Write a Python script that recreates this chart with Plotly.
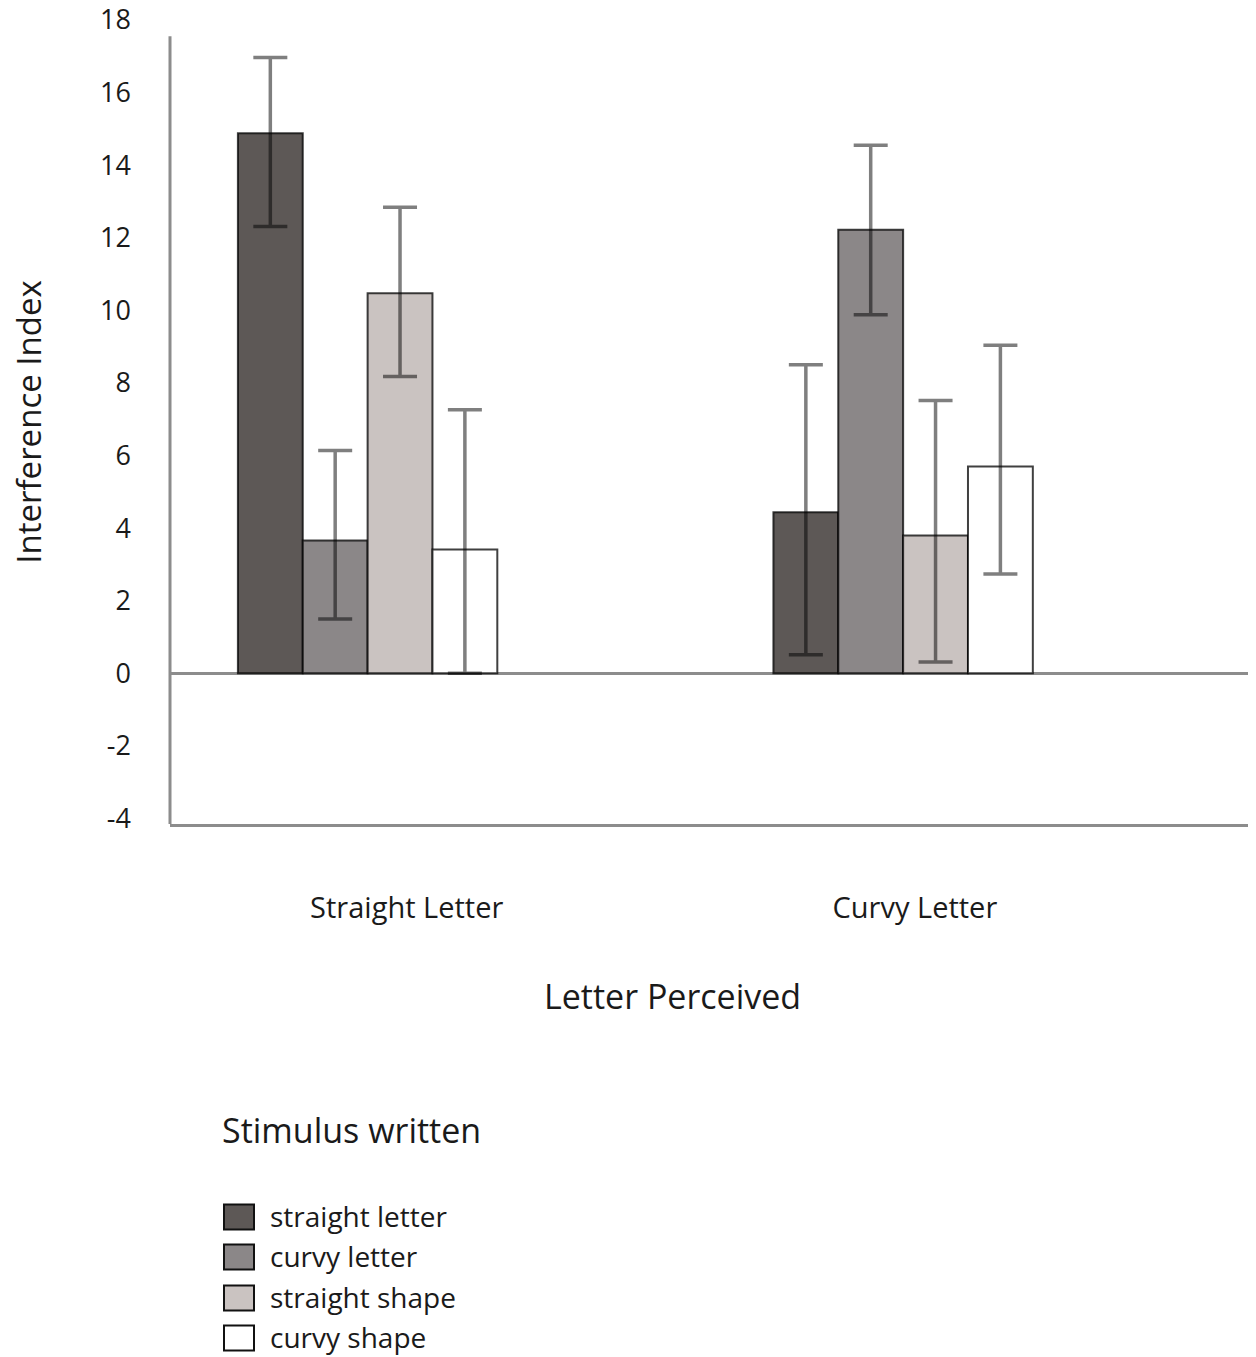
import plotly.graph_objects as go

# ---- data ----
groups = ["Straight Letter", "Curvy Letter"]
series_names = ["straight letter", "curvy letter", "straight shape", "curvy shape"]

straight_letter = [14.88, 4.44]
straight_letter_hi = [16.97, 8.50]
straight_letter_lo = [12.31, 0.51]

curvy_letter = [3.66, 12.22]
curvy_letter_hi = [6.14, 14.55]
curvy_letter_lo = [1.50, 9.88]

straight_shape = [10.47, 3.80]
straight_shape_hi = [12.84, 7.52]
straight_shape_lo = [8.18, 0.31]

curvy_shape = [3.41, 5.70]
curvy_shape_hi = [7.26, 9.04]
curvy_shape_lo = [0.00, 2.74]

y_ticks = [-4, -2, 0, 2, 4, 6, 8, 10, 12, 14, 16, 18]

# ---- styling ----
fills = ["#5d5856", "#8b8788", "#cac3c1", "#ffffff"]
FONT = "Open Sans"
AXIS_COLOR = "#8c8c8c"
TEXT_COLOR = "#1a1a1a"

W, H = 1256, 1357
ML, MR, MT, MB = 170, 8, 20, 533
PW = W - ML - MR
PH = H - MT - MB


def px2x(px):
    return (px - ML) / PW


def py2y(py):
    return (MT + PH - py) / PH


x_pos = list(range(len(groups)))
means = [straight_letter, curvy_letter, straight_shape, curvy_shape]
his = [straight_letter_hi, curvy_letter_hi, straight_shape_hi, curvy_shape_hi]
los = [straight_letter_lo, curvy_letter_lo, straight_shape_lo, curvy_shape_lo]

fig = go.Figure()
for name, m, hi, lo, col in zip(series_names, means, his, los, fills):
    fig.add_trace(go.Bar(
        name=name,
        x=x_pos,
        y=m,
        marker=dict(color=col, line=dict(color="rgba(0,0,0,0.75)", width=2)),
        error_y=dict(
            type="data",
            symmetric=False,
            array=[h - v for h, v in zip(hi, m)],
            arrayminus=[v - l for v, l in zip(m, lo)],
            color="rgba(0,0,0,0.5)",
            thickness=3.5,
            width=17,
        ),
        showlegend=False,
    ))

label_offsets = [0.073, 0.022]

fig.update_layout(
    width=W, height=H,
    margin=dict(l=ML, r=MR, t=MT, b=MB, pad=0, autoexpand=False),
    paper_bgcolor="white", plot_bgcolor="white",
    barmode="group", bargap=0.5156, bargroupgap=0,
    font=dict(family=FONT, color=TEXT_COLOR, size=26),
    showlegend=False,
    xaxis=dict(
        range=[-0.369, 1.644],
        automargin=False,
        tickvals=[p + o for p, o in zip(x_pos, label_offsets)],
        ticktext=groups,
        showline=True, linecolor=AXIS_COLOR, linewidth=3,
        showgrid=False, zeroline=False, ticks="",
        ticklabelstandoff=56,
        tickfont=dict(size=29),
    ),
    yaxis=dict(
        range=[-4.15, 18],
        automargin=False,
        tickvals=y_ticks,
        ticktext=[str(v) for v in y_ticks],
        showline=False, showgrid=False,
        zeroline=True, zerolinecolor=AXIS_COLOR, zerolinewidth=3,
        ticks="", ticklabelstandoff=38,
        ticklabeloverflow="allow",
        tickfont=dict(size=27),
        title=dict(text="Interference Index", font=dict(size=33), standoff=48),
    ),
)

# y axis line (stops just short of the top tick)
fig.add_shape(type="line", xref="paper", yref="y", x0=0, x1=0, y0=-4.15, y1=17.55,
              line=dict(color=AXIS_COLOR, width=3))

# x axis title
fig.add_annotation(text="Letter Perceived", xref="paper", yref="paper",
                   x=px2x(672), y=py2y(996), xanchor="center", yanchor="middle",
                   showarrow=False, font=dict(size=34))

# legend
fig.add_annotation(text="Stimulus written", xref="paper", yref="paper",
                   x=px2x(220), y=py2y(1130), xanchor="left", yanchor="middle",
                   showarrow=False, font=dict(size=34))
item_y = [1217, 1257, 1298, 1338]
for name, col, cy in zip(series_names, fills, item_y):
    fig.add_shape(type="rect", xref="paper", yref="paper",
                  x0=px2x(224), x1=px2x(254), y0=py2y(cy - 12.5), y1=py2y(cy + 12.5),
                  fillcolor=col, line=dict(color="#111111", width=2))
    fig.add_annotation(text=name, xref="paper", yref="paper",
                       x=px2x(269), y=py2y(cy - 1), xanchor="left", yanchor="middle",
                       showarrow=False, font=dict(size=28), borderpad=0)

fig.write_html("out.html", config={"displayModeBar": False},
               post_script="document.body.style.margin='0';")
